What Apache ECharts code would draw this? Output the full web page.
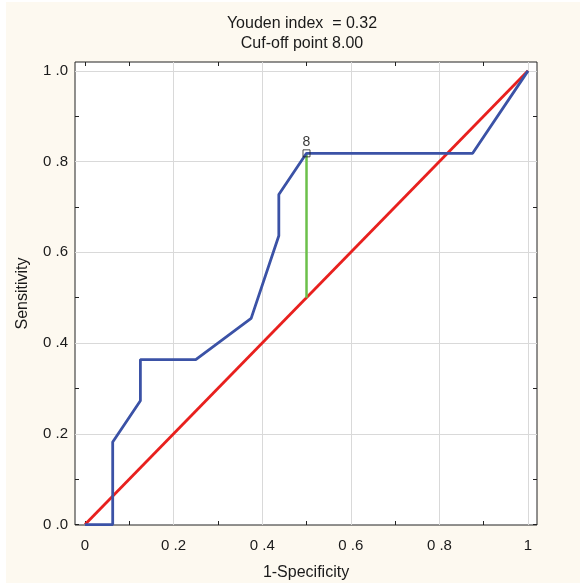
<!DOCTYPE html>
<html>
<head>
<meta charset="utf-8">
<script src="https://cdn.jsdelivr.net/npm/echarts@6/dist/echarts.min.js"></script>
<style>
html,body{margin:0;padding:0;background:#ffffff;width:580px;height:583px;overflow:hidden;}
#c{position:absolute;left:6px;top:2px;width:574px;height:581px;background:#fdf9f0;}
</style>
</head>
<body>
<div id="c"></div>
<script>
// ---- data ----
const rocFPR = [0, 0.0625, 0.0625, 0.125, 0.125, 0.25, 0.375, 0.4375, 0.4375, 0.5, 0.875, 1];
const rocTPR = [0, 0, 0.1818, 0.2727, 0.3636, 0.3636, 0.4545, 0.6364, 0.7273, 0.8182, 0.8182, 1];
const diagX = [0, 1];
const diagY = [0, 1];
const youdenX = [0.5, 0.5];
const youdenY = [0.5, 0.8182];
const cutoffPoint = [0.5, 0.8182];
const cutoffLabel = '8';
const xTickValues = [0, 0.2, 0.4, 0.6, 0.8, 1];
const xTickLabels = ['0', '0 .2', '0 .4', '0 .6', '0 .8', '1'];
const yTickValues = [0, 0.2, 0.4, 0.6, 0.8, 1];
const yTickLabels = ['0 .0', '0 .2', '0 .4', '0 .6', '0 .8', '1 .0'];
const minorTicks = [0, 0.1, 0.2, 0.3, 0.4, 0.5, 0.6, 0.7, 0.8, 0.9, 1];
const gridValues = [0.2, 0.4, 0.6, 0.8, 1];
const titleText = 'Youden index  = 0.32\nCuf-off point 8.00';
const xName = '1-Specificity';
const yName = 'Sensitivity';

const FONT = "'Liberation Sans', Arial, sans-serif";
const chart = echarts.init(document.getElementById('c'), null, {renderer: 'canvas'});

function lookup(vals, labels) {
  return function (v) {
    for (let i = 0; i < vals.length; i++) if (Math.abs(vals[i] - v) < 1e-6) return labels[i];
    return '';
  };
}
const tickStyle = {show: true, inside: true, length: 4, lineStyle: {color: '#222', width: 1}};
const noLine = {show: false, onZero: false};

const option = {
  animation: false,
  title: {
    text: titleText,
    left: 291, top: 7,
    textAlign: 'center',
    textStyle: {fontFamily: FONT, fontSize: 16, fontWeight: 'normal', color: '#1a1a1a', lineHeight: 20}
  },
  grid: {
    left: 69, top: 60, width: 462, height: 463,
    outerBoundsMode: 'none', containLabel: false,
    show: true, backgroundColor: '#ffffff', borderColor: '#222', borderWidth: 1
  },
  xAxis: [{
    type: 'value', min: -0.0226, max: 1.0203,
    axisLine: noLine,
    axisTick: Object.assign({customValues: minorTicks}, tickStyle),
    splitLine: {show: false},
    axisLabel: {customValues: xTickValues, formatter: lookup(xTickValues, xTickLabels),
      fontFamily: FONT, fontSize: 15, color: '#1a1a1a', margin: 13},
    name: xName, nameLocation: 'middle', nameGap: 40,
    nameTextStyle: {fontFamily: FONT, fontSize: 16, color: '#1a1a1a'}
  }, {
    type: 'value', min: -0.0226, max: 1.0203, position: 'top',
    axisLine: noLine,
    axisTick: Object.assign({customValues: minorTicks}, tickStyle),
    splitLine: {show: false},
    axisLabel: {show: false}
  }],
  yAxis: [{
    type: 'value', min: -0.001, max: 1.0195,
    axisLine: noLine,
    axisTick: Object.assign({customValues: minorTicks}, tickStyle),
    splitLine: {show: false},
    axisLabel: {customValues: yTickValues, formatter: lookup(yTickValues, yTickLabels),
      fontFamily: FONT, fontSize: 15, color: '#1a1a1a', margin: 7},
    name: yName, nameLocation: 'middle', nameGap: 44,
    nameTextStyle: {fontFamily: FONT, fontSize: 16, color: '#1a1a1a'}
  }, {
    type: 'value', min: -0.001, max: 1.0195, position: 'right',
    axisLine: noLine,
    axisTick: Object.assign({customValues: minorTicks}, tickStyle),
    splitLine: {show: false},
    axisLabel: {show: false}
  }],
  series: [
    {
      type: 'line', name: 'grid', data: [], silent: true, z: 1,
      markLine: {
        silent: true, symbol: 'none', label: {show: false}, z: 1,
        lineStyle: {color: '#d9d9d9', width: 1, type: 'solid'},
        data: gridValues.map(v => ({xAxis: v})).concat(gridValues.map(v => ({yAxis: v})))
      }
    },
    {
      type: 'line', name: 'diag', showSymbol: false, symbol: 'none', z: 3,
      data: diagX.map((x, i) => [x, diagY[i]]),
      lineStyle: {color: '#e8201e', width: 2.8}
    },
    {
      type: 'line', name: 'youden', showSymbol: false, symbol: 'none', z: 4,
      data: youdenX.map((x, i) => [x, youdenY[i]]),
      lineStyle: {color: '#6cc04a', width: 2.5}
    },
    {
      type: 'line', name: 'roc', showSymbol: false, symbol: 'none', z: 5,
      data: rocFPR.map((x, i) => [x, rocTPR[i]]),
      lineStyle: {color: '#3b52a6', width: 2.8}
    },
    {
      type: 'scatter', name: 'cutoff', symbol: 'rect', symbolSize: 7, z: 6,
      data: [cutoffPoint],
      itemStyle: {color: 'rgba(255,255,255,0)', borderColor: '#222', borderWidth: 1},
      label: {show: true, position: 'top', distance: 0, formatter: cutoffLabel,
        fontFamily: FONT, fontSize: 14, color: '#000'}
    }
  ]
};
chart.setOption(option);
</script>
</body>
</html>
